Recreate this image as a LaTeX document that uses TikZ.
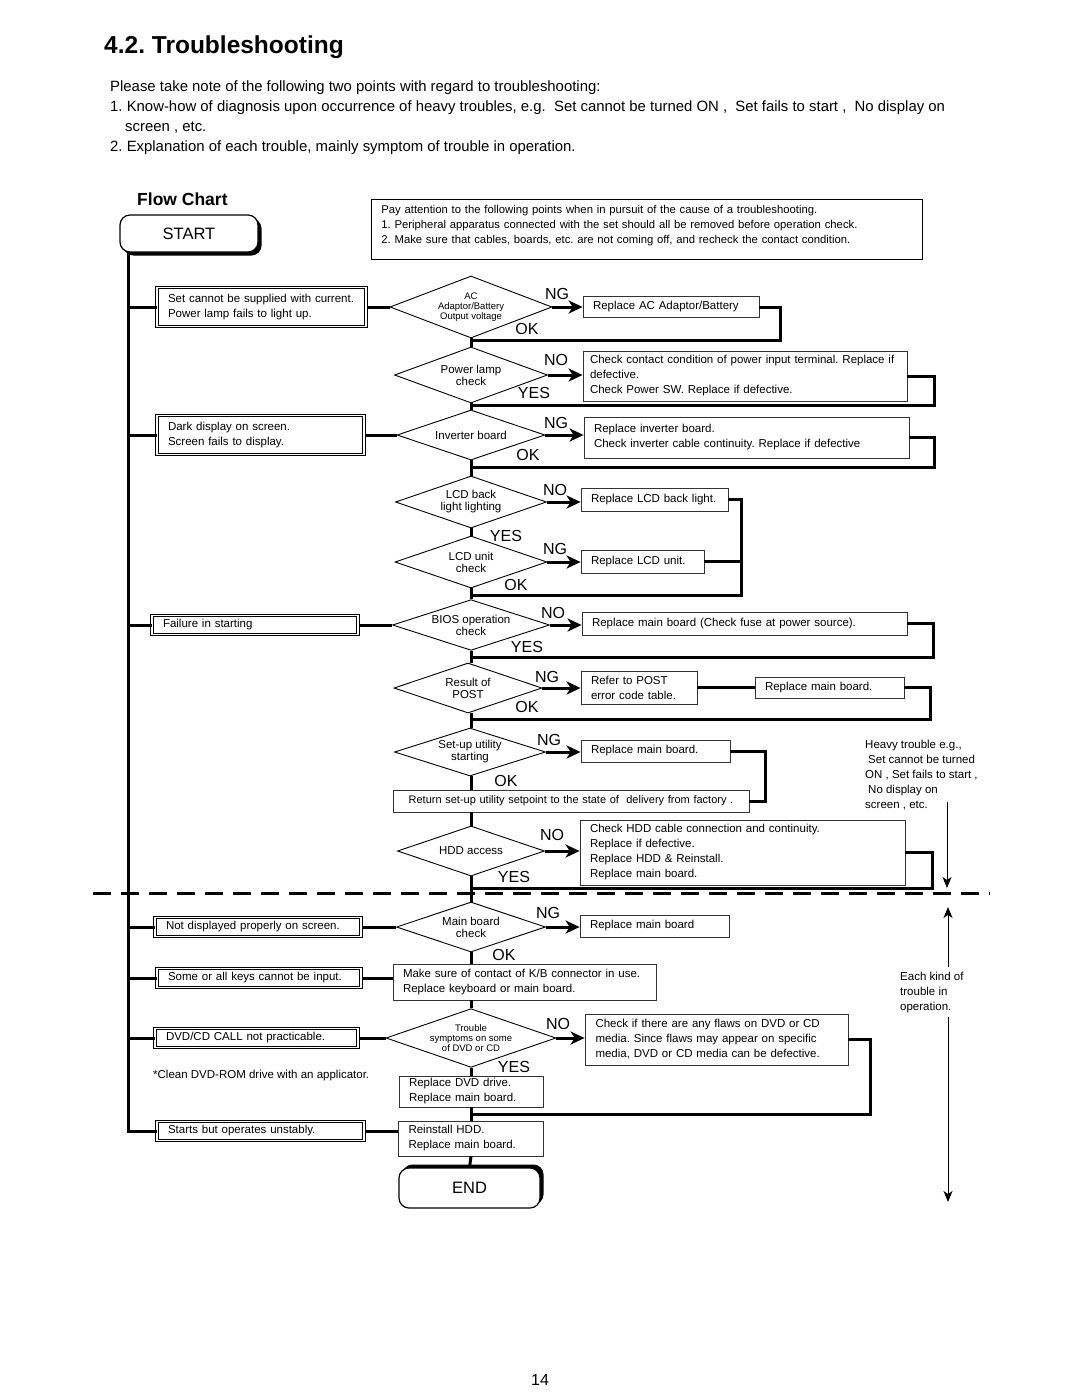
\documentclass[tikz,border=0pt]{standalone}
\usepackage{fontspec}
\setmainfont{Liberation Sans}
\usetikzlibrary{shapes.geometric,arrows.meta,shadows}
\frenchspacing

\begin{document}
\begin{tikzpicture}[x=1pt,y=-1pt,
  flow/.style={line width=3pt},
  flowarr/.style={line width=3pt,-{Stealth[length=14pt,width=13pt,inset=4pt]}},
  thinarr/.style={line width=1pt,-{Stealth[length=11pt,width=9pt,inset=3pt]}},
  chk/.style={diamond,draw,line width=0.9pt,aspect=2.6,inner sep=0pt,align=center,font=\fontsize{11.5}{12}\selectfont},
  fix/.style={draw=black!80,line width=0.8pt,fill=white,inner xsep=10pt,inner ysep=0pt,align=left,font=\fontsize{11.5}{15}\selectfont},
  sym/.style={draw,double,double distance=1.6pt,line width=1pt,inner xsep=11pt,inner ysep=0pt,align=left,font=\fontsize{11.5}{15}\selectfont},
  lbl/.style={inner sep=0pt,font=\fontsize{16}{16}\selectfont},
  term/.style={draw,rounded corners=10pt,line width=1.2pt,fill=white,font=\fontsize{16.5}{17}\selectfont},
  hdr/.style={inner sep=0pt,anchor=base west,font=\fontsize{14.9}{16}\selectfont}
]
  \path[fill=white] (0,0) rectangle (1080,1397);

  \node[hdr,font=\fontsize{24.5}{28}\bfseries\selectfont] (title) at (104,54) {4.2. Troubleshooting};
  \node[hdr] (intro) at (110,92) {Please take note of the following two points with regard to troubleshooting:};
  \node[hdr] (pointa) at (110,111) {1. Know-how of diagnosis upon occurrence of heavy troubles, e.g.\ \ Set cannot be turned ON ,\ \ Set fails to start ,\ \ No display on};
  \node[hdr] (pointa2) at (125,131) {screen , etc.};
  \node[hdr] (pointb) at (110,151) {2. Explanation of each trouble, mainly symptom of trouble in operation.};
  \node[hdr,font=\fontsize{17.5}{20}\bfseries\selectfont] (flowhd) at (137,205) {Flow Chart};

  \node[term,minimum width=138pt,minimum height=37pt,drop shadow={opacity=1,fill=black,shadow xshift=3.5pt,shadow yshift=-3.5pt}] (start) at (189,233.5) {START};
  \node[fix,draw=black,anchor=north west,text width=531pt,minimum height=60pt,text depth=40pt,font=\fontsize{11.3}{15}\selectfont] (note) at (371,199) {Pay attention to the following points when in pursuit of the cause of a troubleshooting.\\1. Peripheral apparatus connected with the set should all be removed before operation check.\\2. Make sure that cables, boards, etc. are not coming off, and recheck the contact condition.};

  \node[sym,minimum width=209pt,minimum height=39pt,text width=187pt] (supply) at (261.5,307) {Set cannot be supplied with current.\\Power lamp fails to light up.};
  \node[sym,minimum width=207pt,minimum height=39pt,text width=185pt] (dark) at (260.5,435) {Dark display on screen.\\Screen fails to display.};
  \node[sym,minimum width=206pt,minimum height=19pt,text width=184pt] (fail) at (255,625) {Failure in starting};
  \node[sym,minimum width=206pt,minimum height=19pt,text width=184pt] (notdisp) at (258,927) {Not displayed properly on screen.};
  \node[sym,minimum width=204pt,minimum height=19pt,text width=182pt] (keys) at (259,978) {Some or all keys cannot be input.};
  \node[sym,minimum width=203pt,minimum height=19pt,text width=181pt] (dvdcall) at (256.5,1038) {DVD/CD CALL not practicable.};
  \node[sym,minimum width=207pt,minimum height=19pt,text width=185pt] (unstable) at (260.5,1131) {Starts but operates unstably.};
  \node[anchor=base west,inner sep=0pt,font=\fontsize{11.5}{13}\selectfont] (clean) at (153,1078) {*Clean DVD-ROM drive with an applicator.};

  \node[chk,minimum width=162pt,minimum height=62pt,font=\fontsize{9.5}{10}\selectfont] (acv) at (471,307) {AC\\Adaptor/Battery\\Output voltage};
  \node[chk,minimum width=153pt,minimum height=56pt] (lamp) at (471,375) {Power lamp\\check};
  \node[chk,minimum width=148pt,minimum height=50pt] (inv) at (471,435) {Inverter board};
  \node[chk,minimum width=151pt,minimum height=52pt] (back) at (471,502) {LCD back\\light lighting};
  \node[chk,minimum width=152pt,minimum height=52pt] (lcd) at (471,562) {LCD unit\\check};
  \node[chk,minimum width=157pt,minimum height=50pt] (bios) at (471,625) {BIOS operation\\check};
  \node[chk,minimum width=148pt,minimum height=50pt] (post) at (468,688) {Result of\\POST};
  \node[chk,minimum width=151pt,minimum height=48pt] (setup) at (470,752) {Set-up utility\\starting};
  \node[chk,minimum width=147pt,minimum height=50pt] (hdd) at (471,851) {HDD access};
  \node[chk,minimum width=149pt,minimum height=50pt] (mainchk) at (471,927) {Main board\\check};
  \node[chk,minimum width=170pt,minimum height=57pt,font=\fontsize{9.5}{10}\selectfont] (media) at (471,1038) {Trouble\\symptoms on some\\of DVD or CD};

  \node[fix,minimum width=176pt,minimum height=21pt,text width=156pt] (acfix) at (671,307) {Replace AC Adaptor/Battery};
  \node[fix,minimum width=324pt,minimum height=50pt,inner xsep=7pt,text width=310pt] (lampfix) at (745,376) {Check contact condition of power input terminal. Replace if\\defective.\\Check Power SW. Replace if defective.};
  \node[fix,minimum width=325pt,minimum height=41pt,text width=305pt] (invfix) at (746.5,437.5) {Replace inverter board.\\Check inverter cable continuity. Replace if defective};
  \node[fix,minimum width=147pt,minimum height=23pt,text width=127pt] (backfix) at (654.5,499.5) {Replace LCD back light.};
  \node[fix,minimum width=123pt,minimum height=23pt,text width=103pt] (lcdfix) at (642.5,561.5) {Replace LCD unit.};
  \node[fix,minimum width=325pt,minimum height=23pt,text width=305pt] (biosfix) at (744.5,623.5) {Replace main board (Check fuse at power source).};
  \node[fix,minimum width=116pt,minimum height=33pt,text width=96pt] (postfix) at (639,687.5) {Refer to POST\\error code table.};
  \node[fix,minimum width=149pt,minimum height=21pt,text width=129pt] (postmain) at (829.5,687.5) {Replace main board.};
  \node[fix,minimum width=149pt,minimum height=22pt,text width=129pt] (setupfix) at (655.5,751) {Replace main board.};
  \node[fix,minimum width=356pt,minimum height=22pt,inner xsep=3pt,text width=350pt,align=center,font=\fontsize{11}{15}\selectfont] (reset) at (571,801) {Return set-up utility setpoint to the state of\ \ delivery from factory .};
  \node[fix,minimum width=325pt,minimum height=65pt,text width=305pt] (hddfix) at (742.5,852.5) {Check HDD cable connection and continuity.\\Replace if defective.\\Replace HDD \& Reinstall.\\Replace main board.};
  \node[fix,minimum width=149pt,minimum height=22pt,text width=129pt] (mainfix) at (654.5,926) {Replace main board};
  \node[fix,minimum width=263pt,minimum height=36pt,text width=243pt] (kbfix) at (524.5,982) {Make sure of contact of K/B connector in use.\\Replace keyboard or main board.};
  \node[fix,minimum width=263pt,minimum height=51pt,inner xsep=10.5pt,text width=242pt] (mediafix) at (716.5,1039.5) {\makebox[242pt][s]{Check if there are any flaws on DVD or CD}\\\makebox[242pt][s]{media. Since flaws may appear on specific}\\media, DVD or CD media can be defective.};
  \node[fix,minimum width=144pt,minimum height=31pt,text width=124pt] (dvdfix) at (471,1091.5) {Replace DVD drive.\\Replace main board.};
  \node[fix,minimum width=145pt,minimum height=35pt,text width=125pt] (hddre) at (471,1138.5) {Reinstall HDD.\\Replace main board.};
  \node[term,minimum width=141pt,minimum height=40pt,drop shadow={opacity=1,fill=black,shadow xshift=3.5pt,shadow yshift=3.5pt}] (end) at (469.5,1188) {END};

  \coordinate (trunk) at ([xshift=-61pt]start.south);
  \draw[flow] (trunk) |- (unstable.west);
  \draw[flow] (supply.west) -- (supply.west -| trunk);
  \draw[flow] (dark.west) -- (dark.west -| trunk);
  \draw[flow] (fail.west) -- (fail.west -| trunk);
  \draw[flow] (notdisp.west) -- (notdisp.west -| trunk);
  \draw[flow] (keys.west) -- (keys.west -| trunk);
  \draw[flow] (dvdcall.west) -- (dvdcall.west -| trunk);

  \draw[flow] (supply.east) -- (acv.west);
  \draw[flow] (dark.east) -- (inv.west);
  \draw[flow] (fail.east) -- (bios.west);
  \draw[flow] (notdisp.east) -- (mainchk.west);
  \draw[flow] (keys.east) -- (keys.east -| kbfix.west);
  \draw[flow] (dvdcall.east) -- (media.west);
  \draw[flow] (unstable.east) -- (unstable.east -| hddre.west);

  \draw[flow] (acv.south) -- (lamp.north);
  \draw[flow] (lamp.south) -- (inv.north);
  \draw[flow] (inv.south) -- (back.north);
  \draw[flow] (back.south) -- (lcd.north);
  \draw[flow] (lcd.south) -- (bios.north);
  \draw[flow] (bios.south) -- (bios.south |- post.north);
  \draw[flow] (bios.south |- post.south) -- (setup.north -| bios.south);
  \draw[flow] (bios.south |- setup.south) -- (bios.south |- reset.north);
  \draw[flow] (bios.south |- reset.south) -- (hdd.north);
  \draw[flow] (hdd.south) -- (mainchk.north);
  \draw[flow] (mainchk.south) -- (mainchk.south |- kbfix.north);
  \draw[flow] (mainchk.south |- kbfix.south) -- (media.north);
  \draw[flow] (media.south) -- (dvdfix.north);
  \draw[flow] (dvdfix.south) -- (hddre.north);
  \draw[flow] (hddre.south) -- (end.north);

  \draw[flowarr] (acv.east) -- (acv.east -| acfix.west);
  \draw[flowarr] (lamp.east) -- (lamp.east -| lampfix.west);
  \draw[flowarr] (inv.east) -- (inv.east -| invfix.west);
  \draw[flowarr] (back.east) -- (back.east -| backfix.west);
  \draw[flowarr] (lcd.east) -- (lcd.east -| lcdfix.west);
  \draw[flowarr] (bios.east) -- (bios.east -| biosfix.west);
  \draw[flowarr] (post.east) -- (post.east -| postfix.west);
  \draw[flowarr] (setup.east) -- (setup.east -| setupfix.west);
  \draw[flowarr] (hdd.east) -- (hdd.east -| hddfix.west);
  \draw[flowarr] (mainchk.east) -- (mainchk.east -| mainfix.west);
  \draw[flowarr] (media.east) -- (media.east -| mediafix.west);

  \coordinate (j1) at (471,340);
  \coordinate (j2) at (471,405);
  \coordinate (j3) at (471,467);
  \coordinate (j5) at (471,595);
  \coordinate (j6) at (471,657);
  \coordinate (j7) at (471,719);
  \coordinate (j9) at (471,888);
  \coordinate (j11) at (471,1114);
  \draw[flow] (acfix.east) -- ++(21,0) |- (j1);
  \draw[flow] (lampfix.east) -- ++(27,0) |- (j2);
  \draw[flow] (invfix.east) -- ++(25,0) |- (j3);
  \draw[flow] (backfix.east) -- ++(13,0) |- (j5);
  \draw[flow] (lcdfix.east) -- ++(37,0);
  \draw[flow] (biosfix.east) -- ++(26,0) |- (j6);
  \draw[flow] (postfix.east) -- (postmain.west);
  \draw[flow] (postmain.east) -- ++(26,0) |- (j7);
  \draw[flow] (setupfix.east) -- ++(35,0) |- (reset.east);
  \draw[flow] (hddfix.east) -- ++(27,0) |- (j9);
  \draw[flow] (mediafix.east) -- ++(22,0) |- (j11);

  \node[lbl] (ng1) at (557,294) {NG};
  \node[lbl] (ok1) at (527,329) {OK};
  \node[lbl] (no2) at (556,360) {NO};
  \node[lbl] (yes2) at (534,393) {YES};
  \node[lbl] (ng3) at (556,423) {NG};
  \node[lbl] (ok3) at (528,455) {OK};
  \node[lbl] (no4) at (555,490) {NO};
  \node[lbl] (yes4) at (506,536) {YES};
  \node[lbl] (ng5) at (555,549) {NG};
  \node[lbl] (ok5) at (516,585) {OK};
  \node[lbl] (no6) at (553,613) {NO};
  \node[lbl] (yes6) at (527,647) {YES};
  \node[lbl] (ng7) at (547,677) {NG};
  \node[lbl] (ok7) at (527,707) {OK};
  \node[lbl] (ng8) at (549,740) {NG};
  \node[lbl] (ok8) at (506,781) {OK};
  \node[lbl] (no9) at (552,835) {NO};
  \node[lbl] (yes9) at (514,877) {YES};
  \node[lbl] (ng10) at (548,913) {NG};
  \node[lbl] (ok10) at (504,955) {OK};
  \node[lbl] (no11) at (558,1024) {NO};
  \node[lbl] (yes11) at (514,1067) {YES};

  \draw[line width=3pt,dash pattern=on 18pt off 10pt] (93,893) -- (990,893);

  \node[anchor=north west,inner sep=0pt,align=left,font=\fontsize{11.5}{15}\selectfont] (heavy) at (865,740) {Heavy trouble e.g.,\\\hspace*{3pt}Set cannot be turned\\ON ,\ Set fails to start ,\\\hspace*{3pt}No display on\\screen , etc.};
  \node[anchor=north west,inner sep=0pt,align=left,font=\fontsize{11.5}{15}\selectfont] (each) at (900,972) {Each kind of\\trouble in\\operation.};
  \coordinate (hvtop) at (947,802);
  \coordinate (hvtip) at (947,888);
  \coordinate (uptip) at (948,907);
  \coordinate (dntip) at (948,1202);
  \draw[thinarr] (hvtop) -- (hvtip);
  \draw[thinarr] ([yshift=5pt]each.north -| uptip) -- (uptip);
  \draw[thinarr] ([yshift=-4pt]each.south -| dntip) -- (dntip);

  \node[font=\fontsize{16}{16}\selectfont] (pagenum) at (540,1380) {14};
\end{tikzpicture}
\end{document}
